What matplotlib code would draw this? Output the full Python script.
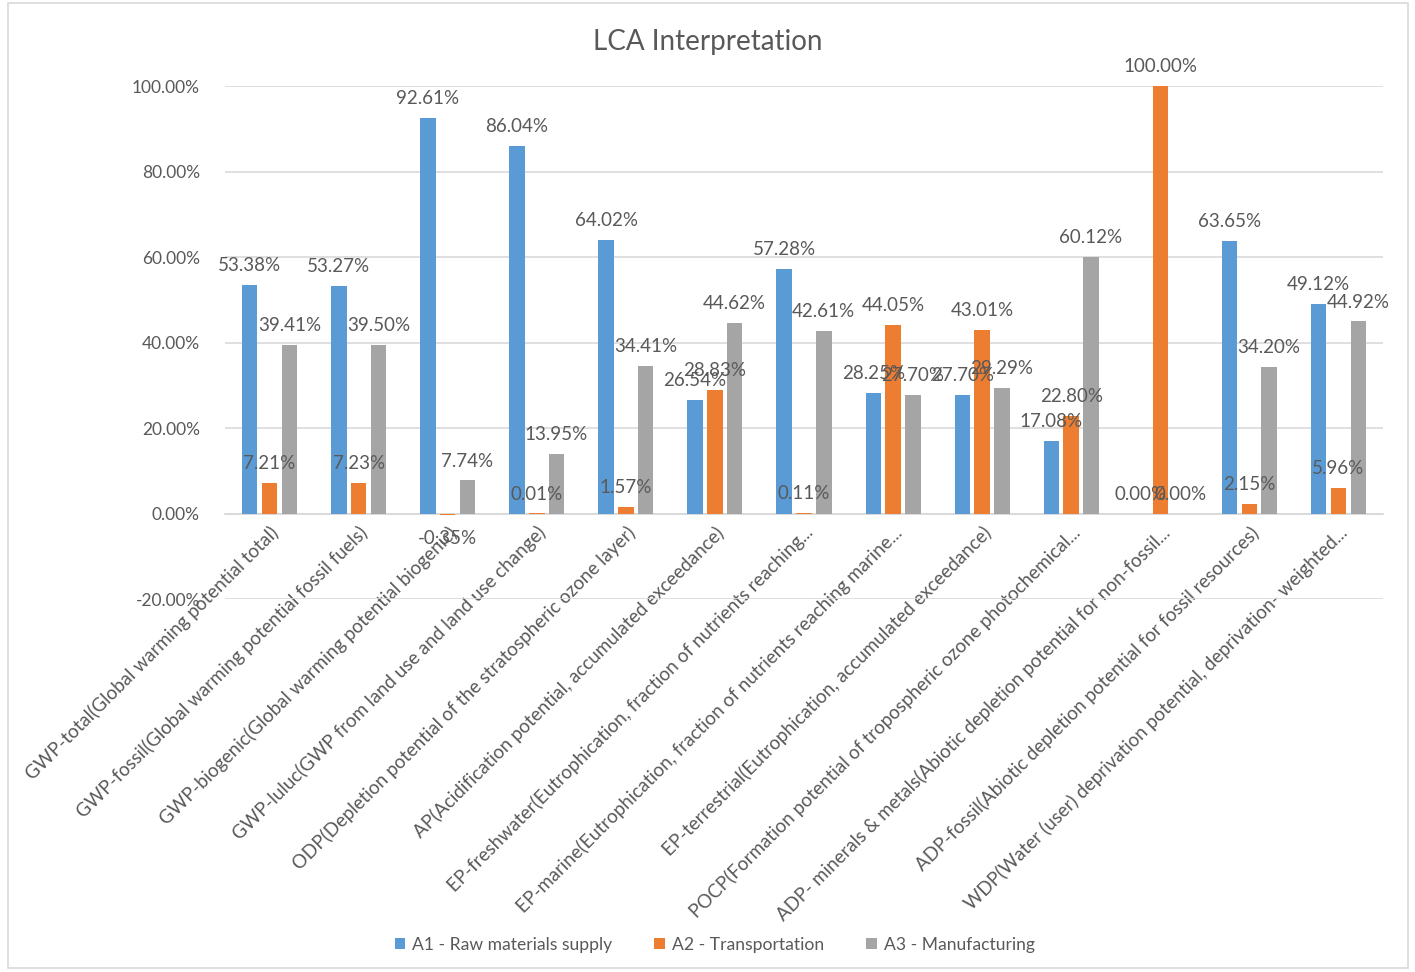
import matplotlib
matplotlib.use('Agg')
import matplotlib.pyplot as plt
import matplotlib.ticker as mticker
from matplotlib.patches import Rectangle
import numpy as np

plt.rcParams['font.family'] = ['Lato', 'DejaVu Sans']

# --- data (shares of each impact category, %) ---
CATEGORIES = [
    'GWP-total(Global warming potential total)',
    'GWP-fossil(Global warming potential fossil fuels)',
    'GWP-biogenic(Global warming potential biogenic)',
    'GWP-luluc(GWP from land use and land use change)',
    'ODP(Depletion potential of the stratospheric ozone layer)',
    'AP(Acidification potential, accumulated exceedance)',
    'EP-freshwater(Eutrophication, fraction of nutrients reaching...',
    'EP-marine(Eutrophication, fraction of nutrients reaching marine...',
    'EP-terrestrial(Eutrophication, accumulated exceedance)',
    'POCP(Formation potential of tropospheric ozone photochemical...',
    'ADP- minerals & metals(Abiotic depletion potential for non-fossil...',
    'ADP-fossil(Abiotic depletion potential for fossil resources)',
    'WDP(Water (user) deprivation potential, deprivation- weighted...',
]
A1 = [53.38, 53.27, 92.61, 86.04, 64.02, 26.54, 57.28, 28.25, 27.70, 17.08, 0.00, 63.65, 49.12]
A2 = [7.21, 7.23, -0.35, 0.01, 1.57, 28.83, 0.11, 44.05, 43.01, 22.80, 100.00, 2.15, 5.96]
A3 = [39.41, 39.50, 7.74, 13.95, 34.41, 44.62, 42.61, 27.70, 29.29, 60.12, 0.00, 34.20, 44.92]
SERIES = ['A1 - Raw materials supply', 'A2 - Transportation', 'A3 - Manufacturing']
COLORS = ['#5B9BD5', '#ED7D31', '#A5A5A5']
TXT = '#595959'
GRID = '#D9D9D9'

fig = plt.figure(figsize=(14.15, 9.72), dpi=100)
ax = fig.add_axes([0.159, 0.3837, 0.8184, 0.5278])

# chart border
fig.patches.append(Rectangle((0.006, 0.004), 0.989, 0.993, transform=fig.transFigure,
                             fill=False, ec=GRID, lw=1.2))

x = np.arange(len(CATEGORIES))
w = 0.174
step = 0.222
for i, (vals, name, col) in enumerate(zip([A1, A2, A3], SERIES, COLORS)):
    xs = x + (i - 1) * step
    vals = np.array(vals) / 100.0
    ax.bar(xs, vals, width=w, color=col, label=name, zorder=3)
    for xx, v in zip(xs, vals):
        off = 14 if v >= 0 else -17
        ax.annotate(f'{v*100:.2f}%', (xx, v), xytext=(0, off),
                    textcoords='offset points', ha='center', va='center',
                    fontsize=13.5, color=TXT, zorder=5)

ax.set_xlim(-0.5, len(CATEGORIES) - 0.5)
ax.set_ylim(-0.2, 1.0)
ax.yaxis.set_major_locator(mticker.MultipleLocator(0.2))
ax.yaxis.set_major_formatter(mticker.FuncFormatter(lambda v, p: f'{v*100:.2f}%'))
ax.grid(axis='y', color=GRID, lw=1.2, zorder=0)
for s in ['top', 'right', 'left']:
    ax.spines[s].set_visible(False)
ax.spines['bottom'].set_position(('data', 0))
ax.spines['bottom'].set_color(GRID)
ax.spines['bottom'].set_linewidth(1.2)
ax.tick_params(axis='both', length=0, colors=TXT, labelsize=12.5)
ax.tick_params(axis='y', pad=18)
ax.set_xticks(x)
ax.set_xticklabels(CATEGORIES, rotation=45, ha='right', va='top',
                   rotation_mode='anchor', fontsize=13.5, color=TXT)
ax.tick_params(axis='x', pad=7)

fig.text(0.5, 0.957, 'LCA Interpretation', ha='center', va='center',
         fontsize=20, color=TXT)

ax.legend(loc='center', bbox_to_anchor=(0.505, 0.028), bbox_transform=fig.transFigure,
          ncol=3, frameon=False, fontsize=12.6, labelcolor=TXT,
          handlelength=0.6, handleheight=0.6, handletextpad=0.4, columnspacing=2.4)

fig.savefig('out.png', dpi=100)
